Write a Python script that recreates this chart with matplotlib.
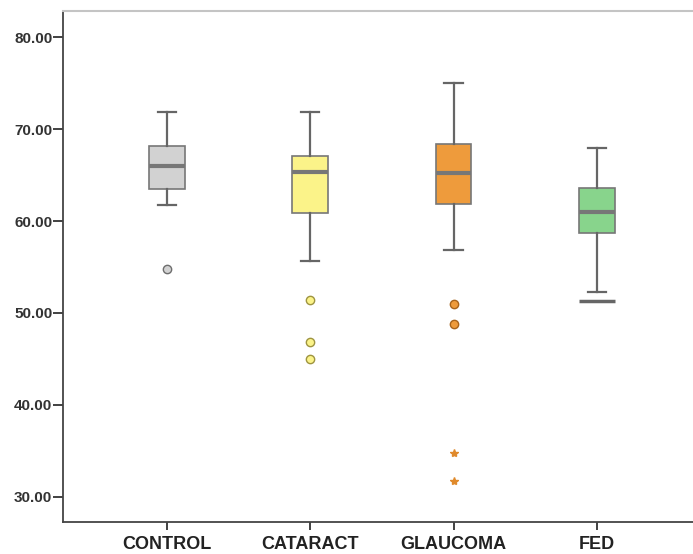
import numpy as np
import matplotlib
matplotlib.use("Agg")
import matplotlib.pyplot as plt

plt.rcParams['font.family'] = ['Liberation Sans', 'DejaVu Sans']

groups = ["CONTROL", "CATARACT", "GLAUCOMA", "FED"]
whislo = [61.7, 55.6, 56.9, 52.25]
q1 = [63.5, 60.9, 61.85, 58.7]
med = [66.0, 65.3, 65.25, 61.0]
q3 = [68.15, 67.05, 68.4, 63.6]
whishi = [71.8, 71.9, 75.0, 67.9]
outliers = [[54.75], [51.4, 46.9, 45.0], [50.95, 48.8], []]
extremes = [[], [], [34.75, 31.75], []]
fed_line = 51.3

box_colors = ["#d2d2d2", "#fbf389", "#ee9b3c", "#88d48c"]
flier_edges = ["#6e6e6e", "#9e9440", "#a8641c", "#4e8a52"]
star_color = "#e08a2c"
yticks = [30, 40, 50, 60, 70, 80]

stats = []
for i in range(len(groups)):
    stats.append({"label": groups[i], "whislo": whislo[i], "q1": q1[i], "med": med[i],
                  "q3": q3[i], "whishi": whishi[i], "fliers": outliers[i]})

fig = plt.figure(figsize=(6.93, 5.54), dpi=100)
ax = fig.add_axes([0.0916, 0.0569, 0.9084, 0.9233])

pos = np.arange(len(groups))
bp = ax.bxp(stats, positions=pos, widths=0.25, patch_artist=True, showfliers=True,
            boxprops=dict(edgecolor="#777777", linewidth=1.2),
            whiskerprops=dict(color="#666666", linewidth=1.6),
            capprops=dict(color="#666666", linewidth=1.6),
            medianprops=dict(color="#777777", linewidth=3),
            flierprops=dict(marker="o", markersize=6, markeredgewidth=1.0))
for i, b in enumerate(bp["boxes"]):
    b.set_facecolor(box_colors[i])
for i, f in enumerate(bp["fliers"]):
    f.set_markerfacecolor(box_colors[i])
    f.set_markeredgecolor(flier_edges[i])
for c in bp["caps"]:
    x0, x1 = c.get_xdata()
    m = (x0 + x1) / 2
    c.set_xdata([m - 0.063, m + 0.063])

for i in range(len(groups)):
    if extremes[i]:
        ax.plot([pos[i]] * len(extremes[i]), extremes[i], linestyle="none", marker="*",
                markersize=6, color=star_color)

ax.hlines(fed_line, pos[3] - 0.125, pos[3] + 0.125, color="#666666", linewidth=2.5)

ax.set_xlim(-0.72, 3.67)
ax.set_ylim(27.23, 82.83)
ax.set_xticks(pos)
ax.set_xticklabels(groups, fontsize=13, fontweight="bold", color="#222222")
ax.set_yticks(yticks)
ax.set_yticklabels(["%.2f" % v for v in yticks], fontsize=11, fontweight="bold", color="#333333")
ax.tick_params(axis="y", length=7, width=1.3, color="#333333", pad=1)
ax.tick_params(axis="x", length=6, width=1.3, color="#333333", pad=4)

ax.spines["right"].set_visible(False)
ax.spines["top"].set_color("#c4c4c4")
ax.spines["top"].set_linewidth(1.5)
ax.spines["left"].set_color("#444444")
ax.spines["bottom"].set_color("#444444")
ax.spines["left"].set_linewidth(1.3)
ax.spines["bottom"].set_linewidth(1.3)

fig.savefig("out.png", dpi=100)
